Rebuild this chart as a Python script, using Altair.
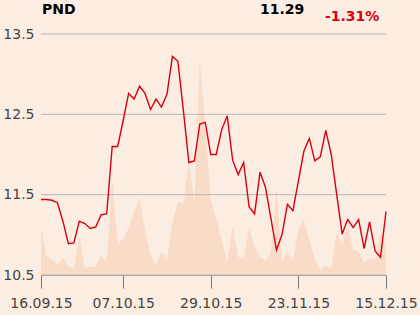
import altair as alt
import pandas as pd

# price series (one value per trading day)
price = [11.44, 11.44, 11.43, 11.40, 11.17, 10.89, 10.90, 11.17, 11.14, 11.08,
         11.10, 11.25, 11.26, 12.10, 12.10, 12.42, 12.76, 12.69, 12.85, 12.76,
         12.56, 12.69, 12.59, 12.75, 13.22, 13.16, 12.55, 11.90, 11.92, 12.38,
         12.40, 12.00, 12.00, 12.31, 12.48, 11.93, 11.75, 11.90, 11.35, 11.26,
         11.78, 11.59, 11.20, 10.81, 11.00, 11.38, 11.30, 11.67, 12.04, 12.20,
         11.92, 11.97, 12.30, 12.00, 11.50, 11.01, 11.19, 11.09, 11.19, 10.83,
         11.16, 10.80, 10.72, 11.29]

# traded volume (relative units)
volume = [47, 19, 16, 10, 17, 9, 5.5, 39, 7, 8.5,
          8, 20, 13, 96, 31, 36, 47, 63, 78, 45,
          20, 10, 23, 15, 52, 73, 71, 115, 72, 215,
          150, 75, 56, 36, 12, 49, 18, 15.5, 46.5, 29,
          18, 14, 23, 87, 13, 23, 14.5, 46, 55.5, 35,
          16, 5, 9.5, 6.7, 42.5, 31, 49.5, 25, 23.5, 12,
          16.7, 15, 42, 27]

tick_index = [0, 15, 31, 47, 63]
tick_labels = ["16.09.15", "07.10.15", "29.10.15", "23.11.15", "15.12.15"]
y_ticks = [10.5, 11.5, 12.5, 13.5]

title_name = "PND"
last_price = "11.29"
change = "-1.31%"

df = pd.DataFrame({"i": list(range(len(price))), "price": price, "volume": volume})

label_expr = "{" + ",".join(f"'{k}':'{v}'" for k, v in zip(tick_index, tick_labels)) + "}[datum.value]"

xscale = alt.Scale(domain=[0, len(price) - 1], nice=False, zero=False)

base = alt.Chart(df)

area = base.mark_area(color="#f8dcc7", opacity=1).encode(
    x=alt.X("i:Q", scale=xscale,
            axis=alt.Axis(values=tick_index, labelExpr=label_expr, grid=False,
                          domainColor="#999999", tickColor="#777777", tickSize=13,
                          labelFontSize=14, labelColor="#444444", labelPadding=8,
                          labelFont="DejaVu Sans", title=None, labelFlush=False)),
    y=alt.Y("volume:Q", scale=alt.Scale(domain=[0, 241], nice=False), axis=None),
)

grid = alt.Chart(pd.DataFrame({"g": y_ticks})).mark_rule(color="#b8b8b8", strokeWidth=1).encode(
    y=alt.Y("g:Q", scale=alt.Scale(domain=[10.5, 13.5], nice=False), axis=None)
)

line = base.mark_line(color="#d70012", strokeWidth=1.4).encode(
    x=alt.X("i:Q", scale=xscale),
    y=alt.Y("price:Q", scale=alt.Scale(domain=[10.5, 13.5], nice=False),
            axis=alt.Axis(values=y_ticks, format=".1f", grid=False, domain=False, ticks=False,
                          labelFontSize=14, labelColor="#444444", labelPadding=7,
                          labelFont="DejaVu Sans", title=None)),
)

texts = pd.DataFrame({"t": [title_name]})
t1 = alt.Chart(texts).mark_text(fontWeight="bold", fontSize=14, align="left", baseline="middle",
                                 color="#000000", font="DejaVu Sans").encode(
    text="t:N", x=alt.value(1), y=alt.value(-24))
t2 = alt.Chart(pd.DataFrame({"t": [last_price]})).mark_text(fontWeight="bold", fontSize=14, align="left",
                                 baseline="middle", color="#000000", font="DejaVu Sans").encode(
    text="t:N", x=alt.value(219), y=alt.value(-24))
t3 = alt.Chart(pd.DataFrame({"t": [change]})).mark_text(fontWeight="bold", fontSize=14, align="left",
                                 baseline="middle", color="#d70012", font="DejaVu Sans").encode(
    text="t:N", x=alt.value(284), y=alt.value(-17))

chart = alt.layer(area, grid, line, t1, t2, t3).resolve_scale(y="independent").properties(
    width=345, height=241,
    background="#fbede1",
    padding={"left": 41, "top": 34, "right": 34, "bottom": 40},
    autosize=alt.AutoSizeParams(type="none"),
).configure_view(stroke=None)

chart.save("out.html", embed_options={"renderer": "svg", "actions": False})
